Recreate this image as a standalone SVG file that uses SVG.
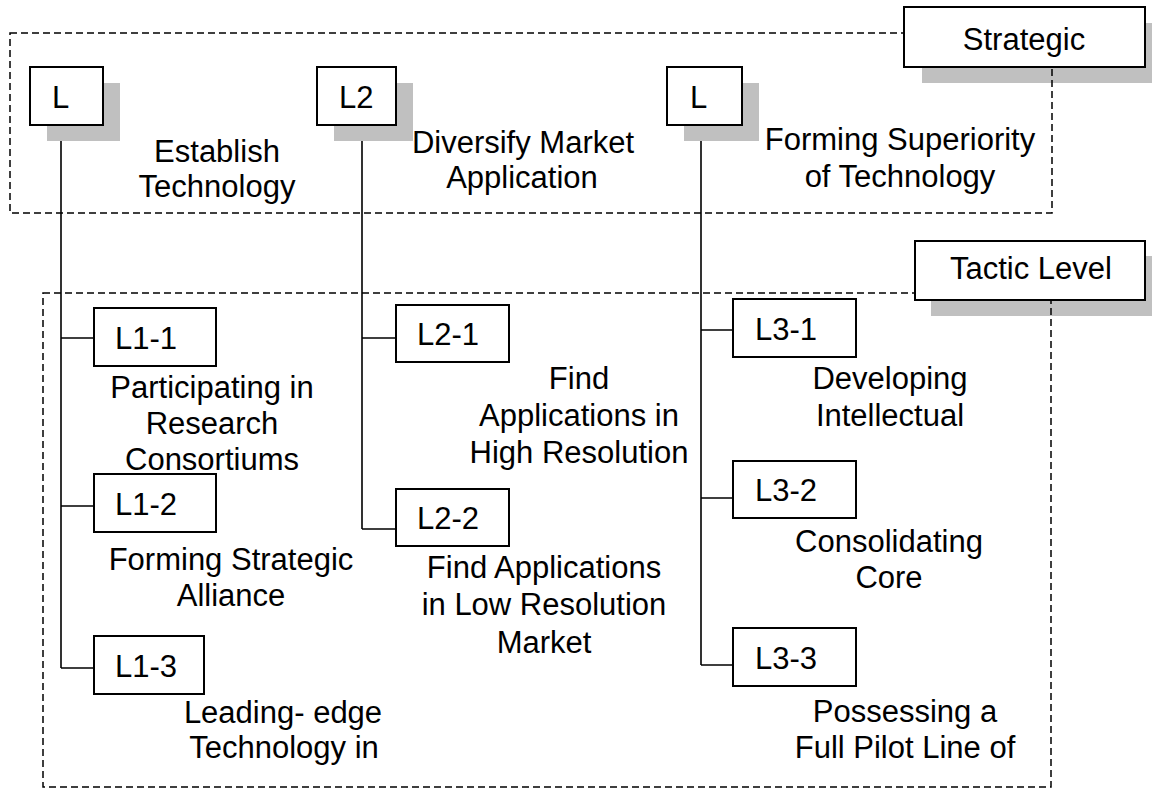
<svg xmlns="http://www.w3.org/2000/svg" width="1152" height="788" viewBox="0 0 1152 788">
<style>
text{font-family:"Liberation Sans",Arial,sans-serif;font-size:31px;fill:#000}
.c{text-anchor:middle}
.box{fill:#fff;stroke:#000;stroke-width:2}
.sh{fill:#c0c0c0;stroke:none}
.frame{fill:none;stroke:#000;stroke-width:1.5;stroke-dasharray:7 4}
.ln{fill:none;stroke:#000;stroke-width:1.6}
</style>
<rect width="1152" height="788" fill="#fff"/>

<g id="strategic-level">
  <rect class="sh" x="922" y="23" width="241" height="60"/>
  <rect class="frame" x="10" y="33" width="1042" height="180"/>
  <rect class="box" x="904" y="7" width="241" height="60"/>
  <text class="c" x="1024" y="50">Strategic</text>
</g>

<g id="tactic-level">
  <rect class="sh" x="931" y="256" width="230" height="60"/>
  <rect class="frame" x="43" y="293" width="1008" height="494"/>
  <rect class="box" x="915" y="241" width="230" height="59"/>
  <text class="c" x="1031" y="279">Tactic Level</text>
</g>

<g id="connectors">
  <path class="ln" d="M61,125 V668 M61,338 H94 M61,506 H94 M61,668 H94"/>
  <path class="ln" d="M362,125 V529 M362,338 H396 M362,529 H396"/>
  <path class="ln" d="M701,125 V665 M701,330 H733 M701,498 H733 M701,665 H733"/>
</g>

<g id="L1">
  <rect class="sh" x="47" y="83" width="73" height="58"/>
  <rect class="box" x="30" y="67" width="73" height="58"/>
  <text x="52" y="108">L</text>
  <text class="c" x="217" y="162">Establish</text>
  <text class="c" x="217" y="197">Technology</text>
</g>

<g id="L2">
  <rect class="sh" x="334" y="83" width="79" height="58"/>
  <rect class="box" x="317" y="67" width="79" height="58"/>
  <text x="339" y="108">L2</text>
  <text class="c" x="523" y="153">Diversify Market</text>
  <text class="c" x="522" y="188">Application</text>
</g>

<g id="L3">
  <rect class="sh" x="684" y="83" width="75" height="58"/>
  <rect class="box" x="667" y="67" width="75" height="58"/>
  <text x="690" y="108">L</text>
  <text class="c" x="900" y="150">Forming Superiority</text>
  <text class="c" x="900" y="187">of Technology</text>
</g>

<g id="L1-1">
  <rect class="box" x="94" y="308" width="122" height="58"/>
  <text x="115" y="349">L1-1</text>
  <text class="c" x="212" y="398">Participating in</text>
  <text class="c" x="212" y="434">Research</text>
  <text class="c" x="212" y="470">Consortiums</text>
</g>

<g id="L1-2">
  <rect class="box" x="94" y="474" width="122" height="58"/>
  <text x="115" y="515">L1-2</text>
  <text class="c" x="231" y="570">Forming Strategic</text>
  <text class="c" x="231" y="606">Alliance</text>
</g>

<g id="L1-3">
  <rect class="box" x="94" y="636" width="110" height="58"/>
  <text x="115" y="677">L1-3</text>
  <text class="c" x="283" y="723">Leading- edge</text>
  <text class="c" x="284" y="758">Technology in</text>
</g>

<g id="L2-1">
  <rect class="box" x="396" y="305" width="113" height="57"/>
  <text x="417" y="345">L2-1</text>
  <text class="c" x="579" y="389">Find</text>
  <text class="c" x="579" y="426">Applications in</text>
  <text class="c" x="579" y="463">High Resolution</text>
</g>

<g id="L2-2">
  <rect class="box" x="396" y="489" width="113" height="57"/>
  <text x="417" y="529">L2-2</text>
  <text class="c" x="544" y="578">Find Applications</text>
  <text class="c" x="544" y="615">in Low Resolution</text>
  <text class="c" x="544" y="653">Market</text>
</g>

<g id="L3-1">
  <rect class="box" x="733" y="299" width="123" height="58"/>
  <text x="755" y="340">L3-1</text>
  <text class="c" x="890" y="389">Developing</text>
  <text class="c" x="890" y="426">Intellectual</text>
</g>

<g id="L3-2">
  <rect class="box" x="733" y="461" width="123" height="57"/>
  <text x="755" y="501">L3-2</text>
  <text class="c" x="889" y="552">Consolidating</text>
  <text class="c" x="889" y="588">Core</text>
</g>

<g id="L3-3">
  <rect class="box" x="733" y="628" width="123" height="58"/>
  <text x="755" y="669">L3-3</text>
  <text class="c" x="905" y="722">Possessing a</text>
  <text class="c" x="905" y="758">Full Pilot Line of</text>
</g>
</svg>
